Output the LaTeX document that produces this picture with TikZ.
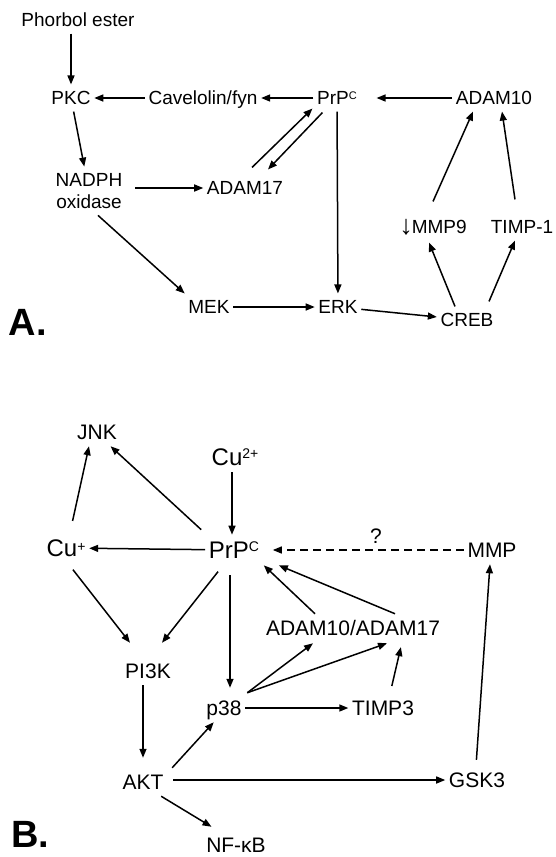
\documentclass[tikz,border=0pt]{standalone}
\usepackage{fontspec}
\setmainfont{Liberation Sans}
\usetikzlibrary{arrows.meta}
\newcommand{\hiA}[1]{\raisebox{5.5pt}{\fontsize{11}{11}\selectfont #1}}
\newcommand{\hiB}[2][7pt]{\raisebox{#1}{\fontsize{14}{14}\selectfont #2}}
\newcommand{\dn}{\raisebox{-0.5pt}{\fontsize{27}{27}\selectfont ↓}\kern-1pt}

\begin{document}
\begin{tikzpicture}
          [x=1pt, y=-1pt, line width=1.5pt, >={Triangle[length=9pt,width=7pt]},
           lbl/.style = {font=\fontsize{19}{22}\selectfont, inner xsep=3pt, inner ysep=6pt},
           mol/.style = {lbl, text height=13.6pt, text depth=0pt},
           molB/.style = {mol, font=\fontsize{21}{24}\selectfont, text height=15pt},
           big/.style = {mol, font=\fontsize{24}{28}\selectfont, text height=17.2pt},
           panel/.style = {font=\fontsize{38}{38}\selectfont\bfseries, inner sep=0pt}]
          \useasboundingbox (0,0) rectangle (555,857);
          % A.
          \node[mol] (phorbol) at (78,20) {Phorbol ester};
          \node[mol] (pkc) at (71,98) {PKC};
          \node[mol] (cav) at (203,98) {Cavelolin/fyn};
          \node[mol] (prpA) at (337,98) {PrP\hiA{C}};
          \node[mol] (adam10A) at (494,98) {ADAM10};
          \node[lbl, align=center] (nadph) at (89,191) {NADPH\\oxidase};
          \node[mol] (adam17) at (245,188) {ADAM17};
          \node[mol] (mek) at (209,307) {MEK};
          \node[mol] (erk) at (338,307) {ERK};
          \node[mol] (creb) at (467,320) {CREB};
          \node[mol] (mmp9) at (433,227) {\dn MMP9};
          \node[mol] (timp1) at (522,227) {TIMP-1};
          \node[panel] (labA) at (28,322) {A.};

          \draw[->] (pkc |- phorbol.south) -- (pkc);
          \draw[->] (cav) -- (pkc);
          \draw[->] (prpA) -- (cav);
          \draw[->, shorten >=16pt] (adam10A) -- (prpA);
          \draw[->] (pkc) -- (nadph);
          \draw[->, shorten <=9pt] (nadph.east |- adam17) -- (adam17);
          \draw[->] ([shift={(7,-7)}]adam17.north) -- ([shift={(-1,-3)}]prpA.south west);
          \draw[->] ([shift={(9,1)}]prpA.south west) -- ([shift={(23,-5)}]adam17.north);
          \draw[->] (prpA) -- (erk);
          \draw[->] ([xshift=9pt]nadph.south) -- (mek.north west);
          \draw[->] (mek) -- (erk);
          \draw[->] (erk) -- (creb);
          \draw[->] ([xshift=-12pt]creb.north) -- ([shift={(-4,2)}]mmp9.south);
          \draw[->] ([shift={(22,-5)}]creb.north) -- ([xshift=-7pt]timp1.south);
          \draw[->] ([shift={(0,-12)}]mmp9.north) -- ([xshift=-21pt]adam10A.south);
          \draw[->] ([shift={(-7,-14)}]timp1.north) -- ([xshift=8pt]adam10A.south);

          % B.
          \node[molB] (jnk) at (97,432) {JNK};
          \node[big] (cu2) at (235,457) {Cu\hiB{2+}};
          \node[big] (cup) at (66,548) {Cu\hiB[5pt]{+}};
          \node[big] (prpB) at (234,550) {PrP\hiB{C}};
          \node[molB] (mmp) at (492,550) {MMP};
          \node[molB] (adam) at (353,628) {ADAM10/ADAM17};
          \node[molB] (pi3k) at (148,671) {PI3K};
          \node[molB] (p38) at (224,708) {p38};
          \node[molB] (timp3) at (383,708) {TIMP3};
          \node[molB] (akt) at (143,782) {AKT};
          \node[molB] (gsk3) at (477,780) {GSK3};
          \node[molB] (nfkb) at (236,845) {NF-κB};
          \node[panel] (labB) at (30,834) {B.};
          \coordinate (fork) at ([shift={(2,-1)}]p38.north east);

          \draw[->] ([xshift=-3pt]cu2.south) -- ([xshift=-2pt]prpB.north);
          \draw[->] (prpB) -- (cup);
          \draw[->, shorten <=12pt] ([xshift=4pt]cup.north) -- ([xshift=-8pt]jnk.south);
          \draw[->] ([shift={(-4,-5)}]prpB.north west) -- ([xshift=-10pt]jnk.south east);
          \draw[->, dash pattern=on 8pt off 5pt, shorten >=10pt] (mmp) -- node[molB, pos=0.437, above=0pt] (quest) {?} (prpB);
          \draw[->] ([xshift=-38pt]adam.north) -- ([xshift=1pt]prpB.south east);
          \draw[->] ([xshift=42pt]adam.north) -- ([xshift=16pt]prpB.south east);
          \draw[->] (fork) -- ([shift={(-40,1)}]adam.south);
          \draw[->] (fork) -- ([shift={(34,1)}]adam.south);
          \draw[->] (p38) -- (timp3);
          \draw[->, shorten <=8pt, shorten >=5pt] ([xshift=7pt]timp3.north) -- ([xshift=49pt]adam.south);
          \draw[->, shorten <=10pt, shorten >=6pt] ([xshift=-4pt]prpB.south) -- ([xshift=6pt]p38.north);
          \draw[->, shorten <=8pt] ([xshift=2pt]cup.south) -- ([shift={(-18,-14)}]pi3k.north);
          \draw[->, shorten <=8pt] ([xshift=-11pt]prpB.south) -- ([shift={(14,-14)}]pi3k.north);
          \draw[->, shorten >=10pt] (akt |- pi3k.south) -- (akt.north);
          \draw[->] ([xshift=5pt]akt.north east) -- ([xshift=11pt]p38.south west);
          \draw[->, shorten <=6pt] (akt.east |- gsk3) -- (gsk3);
          \draw[->, shorten <=6pt] ([xshift=-1pt]gsk3.north) -- ([xshift=-2pt]mmp.south);
          \draw[->] ([xshift=-6pt]akt.south east) -- ([shift={(9,-4)}]nfkb.north west);
\end{tikzpicture}
\end{document}
